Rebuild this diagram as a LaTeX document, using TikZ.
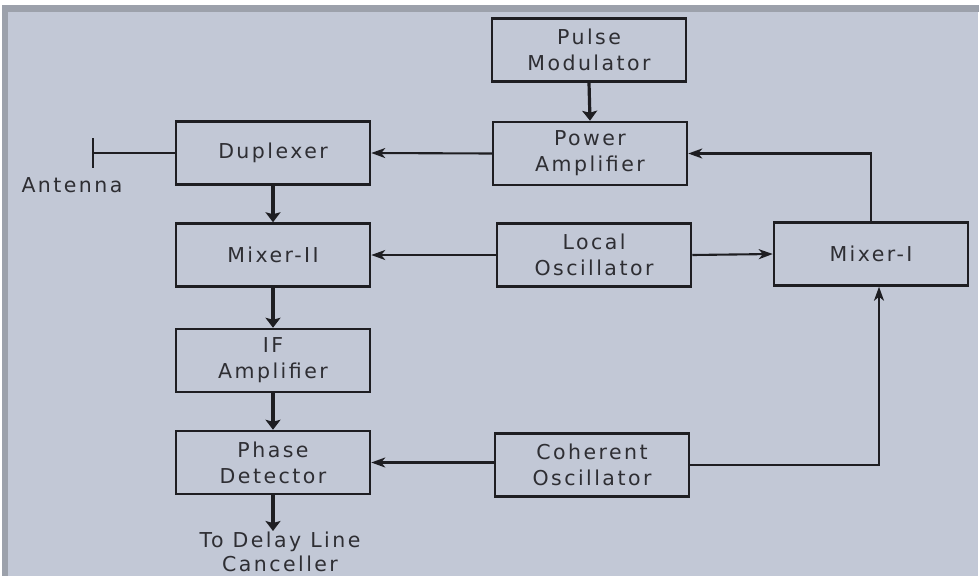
\documentclass[tikz,border=0pt]{standalone}
\usepackage{fontspec}
\usetikzlibrary{arrows.meta,calc}
\newfontfamily\lblfont{DejaVu Sans}[LetterSpace=12]
\definecolor{bgc}{HTML}{C2C8D6}
\definecolor{bandc}{HTML}{9CA1AB}
\definecolor{linec}{HTML}{1E1E22}
\definecolor{txtc}{HTML}{2E2E33}
\tikzset{
  blk/.style={draw=linec, line width=2.5pt, minimum width=194pt, minimum height=63pt,
    inner sep=0pt, align=center, text=txtc, font=\lblfont\fontsize{20.5}{26}\selectfont},
  lbl/.style={inner sep=0pt, align=center, text=txtc, font=\lblfont\fontsize{20.5}{24}\selectfont},
  thin/.style={draw=linec, line width=2.1pt, -{Stealth[length=14pt,width=10pt,inset=4pt]}},
  thick/.style={draw=linec, line width=3.2pt, -{Stealth[length=10pt,width=15pt,inset=2pt]}},
  plain/.style={draw=linec, line width=2.1pt}
}
\begin{document}
\begin{tikzpicture}[x=1pt,y=-1pt]
\useasboundingbox (0,0) rectangle (979,576);
\fill[white] (0,0) rectangle (979,576);
\fill[bandc] (2,5) rectangle (979,12);
\fill[bandc] (2,12) rectangle (8,576);
\fill[bgc] (8,12) rectangle (978,576);

\node[blk] (pm) at (589,50) {Pulse\\Modulator};
\node[blk] (pa) at (590,153.5) {Power\\Amplifier};
\node[blk] (dup) at (273,153) {Duplexer};
\node[blk] (m2) at (273,255) {Mixer-II};
\node[blk] (lo) at (594,255) {Local\\Oscillator};
\node[blk] (m1) at (871,254) {Mixer-I};
\node[blk] (ifa) at (273,360.5) {IF\\Amplifier};
\node[blk] (pd) at (273,462.5) {Phase\\Detector};
\node[blk] (co) at (592,465) {Coherent\\Oscillator};

\coordinate (ant) at (93,153);
\coordinate (out) at (273,531);
\node[lbl] (antl) at (72,185) {Antenna};
\node[lbl] (outl) at (280,552) {To Delay Line\\Canceller};

\draw[thick] (pm.south) -- (pa.north);
\draw[thin] (pa.west) -- (dup.east);
\draw[thin] (m1.north) |- (pa.east);
\draw[plain] (dup.west) -- (ant);
\draw[draw=linec, line width=2.8pt] ($(ant)+(0,-15)$) -- ($(ant)+(0,15)$);
\draw[thick] (dup.south) -- (m2.north);
\draw[thin] (lo.west) -- (m2.east);
\draw[thin] (lo.east) -- (m1.west);
\draw[thick] (m2.south) -- (ifa.north);
\draw[thick] (ifa.south) -- (pd.north);
\draw[thin] (co.west |- pd.east) -- (pd.east);
\draw[thin] (co.east) -| ($(m1.south)+(8,0)$);
\draw[thick] (pd.south) -- (out);
\end{tikzpicture}
\end{document}
